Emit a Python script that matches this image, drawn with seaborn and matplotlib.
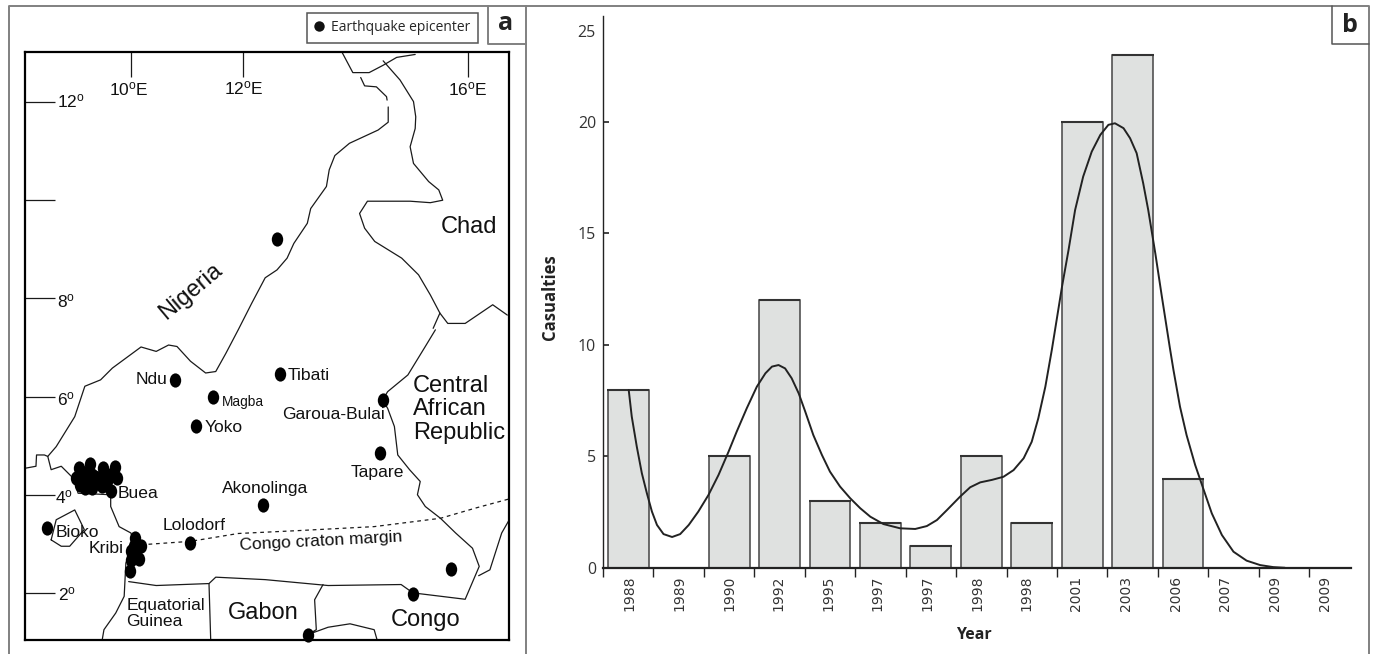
import numpy as np
import seaborn as sns
import matplotlib
matplotlib.use('Agg')
import matplotlib.pyplot as plt
from matplotlib.lines import Line2D
from matplotlib.path import Path
from matplotlib.transforms import Affine2D

# panel b
years = ['1988', '1989', '1990', '1992', '1995', '1997', '1997', '1998', '1998',
         '2001', '2003', '2006', '2007', '2009', '2009']
casualties = [8, 0, 5, 12, 3, 2, 1, 5, 2, 20, 23, 4, 0, 0, 0]
y_ticks = [0, 5, 10, 15, 20]

# trend line, x is the year slot
trend_slot = [0.01, 0.07, 0.17, 0.27, 0.37, 0.47, 0.57, 0.70, 0.87, 1.03, 1.20, 1.39, 1.59, 1.79, 1.99,
              2.15, 2.35, 2.55, 2.72, 2.85, 2.98, 3.11, 3.24, 3.38, 3.51, 3.67, 3.84, 4.00, 4.20, 4.40,
              4.60, 4.80, 5.06, 5.39, 5.69, 5.92, 6.12, 6.32, 6.58, 6.78, 6.98, 7.21, 7.44, 7.64, 7.84,
              8.00, 8.13, 8.27, 8.40, 8.60, 8.73, 8.86, 9.02, 9.19, 9.36, 9.52, 9.65, 9.82, 9.95, 10.08,
              10.21, 10.31, 10.45, 10.58, 10.74, 10.81, 10.94, 11.07, 11.24, 11.41, 11.57, 11.77, 12.00,
              12.26, 12.53, 12.79, 13.02]
trend_val = [7.98, 6.79, 5.44, 4.25, 3.35, 2.53, 1.93, 1.52, 1.39, 1.52, 1.93, 2.53, 3.27, 4.17, 5.22,
             6.11, 7.16, 8.13, 8.73, 9.03, 9.10, 8.95, 8.51, 7.83, 7.01, 5.96, 5.07, 4.32, 3.65, 3.13,
             2.68, 2.30, 1.97, 1.78, 1.75, 1.88, 2.15, 2.60, 3.20, 3.62, 3.84, 3.95, 4.09, 4.39, 4.92,
             5.66, 6.71, 8.13, 9.80, 12.61, 14.26, 16.05, 17.55, 18.67, 19.42, 19.87, 19.94, 19.72, 19.27, 18.60,
             17.25, 16.05, 14.11, 12.17, 9.85, 8.88, 7.23, 5.96, 4.62, 3.50, 2.45, 1.48, 0.73,
             0.33, 0.13, 0.04, 0.01]

# panel a, epicenters
quake_lon = [10.79, 11.47, 12.65, 11.16, 14.48, 14.43, 12.35, 11.06, 8.50, 15.69, 15.02, 13.16, 12.60,
             9.64, 9.07, 9.27, 9.50, 9.72, 9.76, 9.03, 9.17, 9.30, 9.46, 9.61, 9.09, 9.30, 9.49, 9.18,
             9.39, 9.24, 9.55, 9.15, 9.30, 9.45, 9.57, 9.36, 9.18, 9.60,
             10.08, 10.18, 10.06, 10.00, 10.15, 10.00, 10.06, 9.98]
quake_lat = [6.33, 5.99, 6.46, 5.40, 5.93, 4.85, 3.80, 3.02, 3.32, 2.49, 1.98, 1.15, 9.22,
             4.08, 4.54, 4.63, 4.54, 4.56, 4.34, 4.34, 4.34, 4.41, 4.37, 4.37, 4.20, 4.14, 4.17, 4.14,
             4.31, 4.24, 4.20, 4.23, 4.17, 4.23, 4.27, 4.37, 4.44, 4.40,
             3.12, 2.96, 2.95, 2.85, 2.70, 2.68, 2.81, 2.45]

# panel a, borders
north_tip_lon = [13.76, 13.95, 14.24, 14.49, 14.73, 15.06]
north_tip_lat = [13.01, 12.60, 12.60, 12.75, 12.91, 12.97]

chad_lon = [14.49, 14.79, 15.03, 15.07, 15.06, 14.97, 15.03, 15.30, 15.48, 15.55, 15.33, 14.97, 14.21,
            14.07, 14.16, 14.34, 14.82, 15.12, 15.33, 15.50, 15.38]
chad_lat = [12.84, 12.45, 12.01, 11.70, 11.46, 11.09, 10.75, 10.38, 10.21, 10.00, 9.95, 9.98, 9.98,
            9.73, 9.43, 9.16, 8.82, 8.48, 8.07, 7.70, 7.39]

car_north_lon = [15.50, 15.64, 15.95, 16.44, 16.70]
car_north_lat = [7.70, 7.49, 7.49, 7.87, 7.66]

east_lon = [15.42, 15.24, 14.93, 14.57, 14.48, 14.57, 14.69, 14.75, 14.96, 15.15, 15.10, 15.24, 15.51,
            15.78, 16.08, 16.20, 15.95, 15.02, 14.81, 13.51, 12.39, 11.51, 11.39, 10.45, 9.96]
east_lat = [7.36, 7.02, 6.44, 6.10, 5.93, 5.76, 5.39, 4.81, 4.51, 4.27, 4.00, 3.76, 3.52,
            3.22, 2.91, 2.54, 1.87, 2.00, 2.17, 2.15, 2.27, 2.32, 2.19, 2.15, 2.23]

lake_lon = [14.09, 14.16, 14.37, 14.55, 14.56]
lake_lat = [12.50, 12.33, 12.31, 12.11, 12.04]

nigeria_lon = [14.58, 14.58, 14.40, 13.89, 13.63, 13.53, 13.48, 13.20, 13.14, 12.90, 12.78, 12.60, 12.39,
               12.15, 11.91, 11.69, 11.51, 11.33, 11.06, 10.82, 10.67, 10.45, 10.18, 9.67, 9.46, 9.18,
               9.00, 8.67, 8.52, 8.58, 8.76, 8.97, 9.06, 9.64, 9.64, 9.79, 10.00, 10.06, 9.91, 9.88,
               9.73, 9.52, 9.49]
nigeria_lat = [11.90, 11.59, 11.43, 11.16, 10.91, 10.62, 10.28, 9.83, 9.53, 9.12, 8.82, 8.58, 8.42,
               7.90, 7.36, 6.88, 6.51, 6.48, 6.72, 7.02, 7.05, 6.92, 7.01, 6.58, 6.34, 6.21,
               5.59, 4.98, 4.78, 4.51, 4.58, 4.34, 4.03, 4.00, 3.76, 3.35, 3.22, 3.02, 2.61, 1.93,
               1.59, 1.25, 1.05]

stub_lon = [8.12, 8.31, 8.32, 8.46, 8.52]
stub_lat = [4.54, 4.58, 4.81, 4.81, 4.78]

congo_car_lon = [16.19, 16.39, 16.60, 16.72]
congo_car_lat = [2.35, 2.47, 3.22, 3.46]

gabon_west_lon = [11.39, 11.42]
gabon_west_lat = [2.19, 1.05]

gabon_east_lon = [13.42, 13.27, 13.30, 13.15, 13.51, 13.90, 14.33, 14.38]
gabon_east_lat = [2.17, 1.86, 1.25, 1.15, 1.30, 1.37, 1.25, 1.05]

bioko_lon = [8.58, 8.67, 9.00, 9.17, 8.91, 8.76, 8.58]
bioko_lat = [3.08, 3.49, 3.69, 3.29, 2.95, 2.95, 3.08]

craton_lon = [10.18, 11.06, 11.91, 13.00, 14.33, 15.51, 16.14, 16.72]
craton_lat = [2.98, 3.05, 3.21, 3.27, 3.35, 3.52, 3.73, 3.91]

lon_ticks = [10, 12, 16]
lat_ticks = [12, 10, 8, 6, 4, 2]

W, H = 1375, 654


def fig_box(left, top, right, bottom):
    return [left / W, 1 - bottom / H, (right - left) / W, (bottom - top) / H]


def fig_line(fig, xs, ys, color='#808080', lw=1.4):
    fig.add_artist(Line2D([x / W for x in xs], [1 - y / H for y in ys], color=color, lw=lw))


sns.set_theme(style='white')
plt.rcParams['font.family'] = ['Liberation Sans', 'DejaVu Sans']
plt.rcParams['mathtext.default'] = 'regular'

fig = plt.figure(figsize=(W / 100, H / 100), dpi=100)

# outer frame and panel boxes
fig_line(fig, [8.5, 8.5, 1369, 1369], [654, 6, 6, 654])
fig_line(fig, [525.5, 525.5], [6, 654])
fig_line(fig, [487.5, 487.5, 525.5], [6, 43.5, 43.5])
fig_line(fig, [1331.5, 1331.5, 1369], [6, 43.5, 43.5], color='#555555', lw=1.1)
fig.text(506 / W, 1 - 24 / H, 'a', family='Open Sans', weight='bold', fontsize=18, ha='center', va='center', color='#222222')
fig.text(1349.5 / W, 1 - 25 / H, 'b', family='Open Sans', weight='bold', fontsize=18, ha='center', va='center', color='#222222')

# map
ax_map = fig.add_axes(fig_box(25.3, 52, 509, 640))
for lon, lat in [(north_tip_lon, north_tip_lat), (chad_lon, chad_lat), (car_north_lon, car_north_lat),
                 (east_lon, east_lat), (lake_lon, lake_lat), (nigeria_lon, nigeria_lat), (stub_lon, stub_lat),
                 (congo_car_lon, congo_car_lat), (gabon_west_lon, gabon_west_lat),
                 (gabon_east_lon, gabon_east_lat), (bioko_lon, bioko_lat)]:
    sns.lineplot(x=lon, y=lat, sort=False, estimator=None, color='#1a1a1a', lw=0.9, ax=ax_map)
sns.lineplot(x=craton_lon, y=craton_lat, sort=False, estimator=None, color='#1a1a1a', lw=0.9,
             linestyle=(0, (3, 3)), ax=ax_map)

tall_dot = Path.unit_circle().transformed(Affine2D().scale(0.8, 1))
sns.scatterplot(x=quake_lon, y=quake_lat, marker=tall_dot, s=105, color='black', linewidth=0, ax=ax_map, zorder=3, clip_on=False)

ax_map.set_xlim(8.12, 16.73)
ax_map.set_ylim(1.04, 13.02)
ax_map.set_xticks(lon_ticks)
ax_map.set_yticks(lat_ticks)
ax_map.tick_params(axis='x', direction='in', top=True, bottom=False, labelbottom=False, length=18, width=0.9, color='#1a1a1a')
ax_map.tick_params(axis='y', direction='in', left=True, labelleft=False, length=21.5, width=0.9, color='#1a1a1a')
for s in ax_map.spines.values():
    s.set_linewidth(1.6)
    s.set_color('black')

deg = r'$^{o}$'
for lon, lat, txt in [(9.97, 12.26, '10' + deg + 'E'), (12.01, 12.29, '12' + deg + 'E'), (15.99, 12.26, '16' + deg + 'E')]:
    ax_map.text(lon, lat, txt, fontsize=12.5, ha='center', va='center', color='#111111')
for lon, lat, txt in [(8.69, 12.02, '12' + deg), (8.68, 7.95, '8' + deg), (8.68, 5.95, '6' + deg),
                      (8.65, 3.95, '4' + deg), (8.70, 1.98, '2' + deg)]:
    ax_map.text(lon, lat, txt, fontsize=12.5, ha='left', va='center', color='#111111')

place_labels = [(10.36, 6.34, 'Ndu', 12.6), (11.99, 5.88, 'Magba', 9.8), (13.17, 6.43, 'Tibati', 12.6),
                (11.65, 5.36, 'Yoko', 12.6), (13.61, 5.63, 'Garoua-Bulai', 12.6), (14.38, 4.45, 'Tapare', 12.6),
                (12.38, 4.12, 'Akonolinga', 12.6), (10.12, 4.02, 'Buea', 12.6), (11.12, 3.37, 'Lolodorf', 12.6),
                (9.05, 3.24, 'Bioko', 12.6), (9.56, 2.90, 'Kribi', 12.6), (12.36, 1.59, 'Gabon', 17),
                (15.25, 1.45, 'Congo', 17), (16.01, 9.46, 'Chad', 17)]
for lon, lat, txt, size in place_labels:
    ax_map.text(lon, lat, txt, fontsize=size, ha='center', va='center', color='#111111')
ax_map.text(11.06, 8.14, 'Nigeria', fontsize=17, rotation=40, rotation_mode='anchor', ha='center', va='center', color='#111111')
ax_map.text(13.38, 3.06, 'Congo craton margin', fontsize=12.5, rotation=3, rotation_mode='anchor', ha='center', va='center', color='#111111')
ax_map.text(15.02, 5.74, 'Central\nAfrican\nRepublic', fontsize=17, linespacing=1.1, ha='left', va='center', color='#111111')
ax_map.text(9.92, 1.58, 'Equatorial\nGuinea', fontsize=12.6, linespacing=1.1, ha='left', va='center', color='#111111')

handle = Line2D([], [], marker='o', color='none', markerfacecolor='#111111', markeredgecolor='none', markersize=7.5)
leg = ax_map.legend([handle], ['Earthquake epicenter'], loc='lower right', bbox_to_anchor=(478 / W, 1 - 43 / H),
                    bbox_transform=fig.transFigure, borderaxespad=0, fancybox=False, framealpha=1, edgecolor='#555555',
                    prop={'family': 'Open Sans', 'size': 10}, handlelength=0.6, handletextpad=0.58, borderpad=0.55)
leg.get_frame().set_linewidth(1.1)

# bars
ax = fig.add_axes(fig_box(603, 16, 1351, 568))
slots = np.arange(len(years))
sns.barplot(x=slots, y=casualties, color='#dfe1e0', saturation=1, edgecolor='#444444', linewidth=1.1, width=0.81, ax=ax)
shown = [i for i in slots if casualties[i] > 0]
ax.hlines([casualties[i] for i in shown], [i - 0.415 for i in shown], [i + 0.415 for i in shown], color='#333333', lw=1.5, zorder=3)
sns.lineplot(x=trend_slot, y=trend_val, sort=False, estimator=None, color='#222222', lw=1.4, ax=ax, zorder=4)

ax.set_xlim(-0.5, 14.33)
ax.set_ylim(0, 24.75)
ax.set_xticks(slots * 0.984 + 0.03, labels=years, rotation=90, family='DejaVu Sans', fontsize=10, color='#333333')
ax.set_xticks(slots - 0.5, minor=True)
ax.tick_params(axis='x', which='major', length=0, pad=5.5)
ax.tick_params(axis='x', which='minor', direction='out', bottom=True, length=6.5, width=1, color='#222222')
ax.set_yticks(y_ticks)
ax.tick_params(axis='y', direction='in', left=True, length=4.5, width=1.2, color='#222222', pad=5, labelsize=11.5, labelcolor='#333333')
for lab in ax.get_yticklabels():
    lab.set_family('Open Sans')
ax.text(-7 / 748, 24.0, '25', transform=ax.get_yaxis_transform(), family='Open Sans', fontsize=11.5, ha='right', va='center', color='#333333')

ax.set_xlabel('Year', family='Open Sans', weight='bold', fontsize=11.5, color='#222222', va='center')
ax.set_ylabel('Casualties', family='Open Sans', weight='bold', fontsize=12, color='#222222', va='center')
ax.xaxis.set_label_coords((974 - 603) / 748, (568 - 635) / 552)
ax.yaxis.set_label_coords((550.5 - 603) / 748, (568 - 297) / 552)

ax.spines['top'].set_visible(False)
ax.spines['right'].set_visible(False)
ax.spines['left'].set_linewidth(1)
ax.spines['left'].set_color('#222222')
ax.spines['bottom'].set_linewidth(1.6)
ax.spines['bottom'].set_color('#222222')

fig.savefig('out.png', dpi=100)
